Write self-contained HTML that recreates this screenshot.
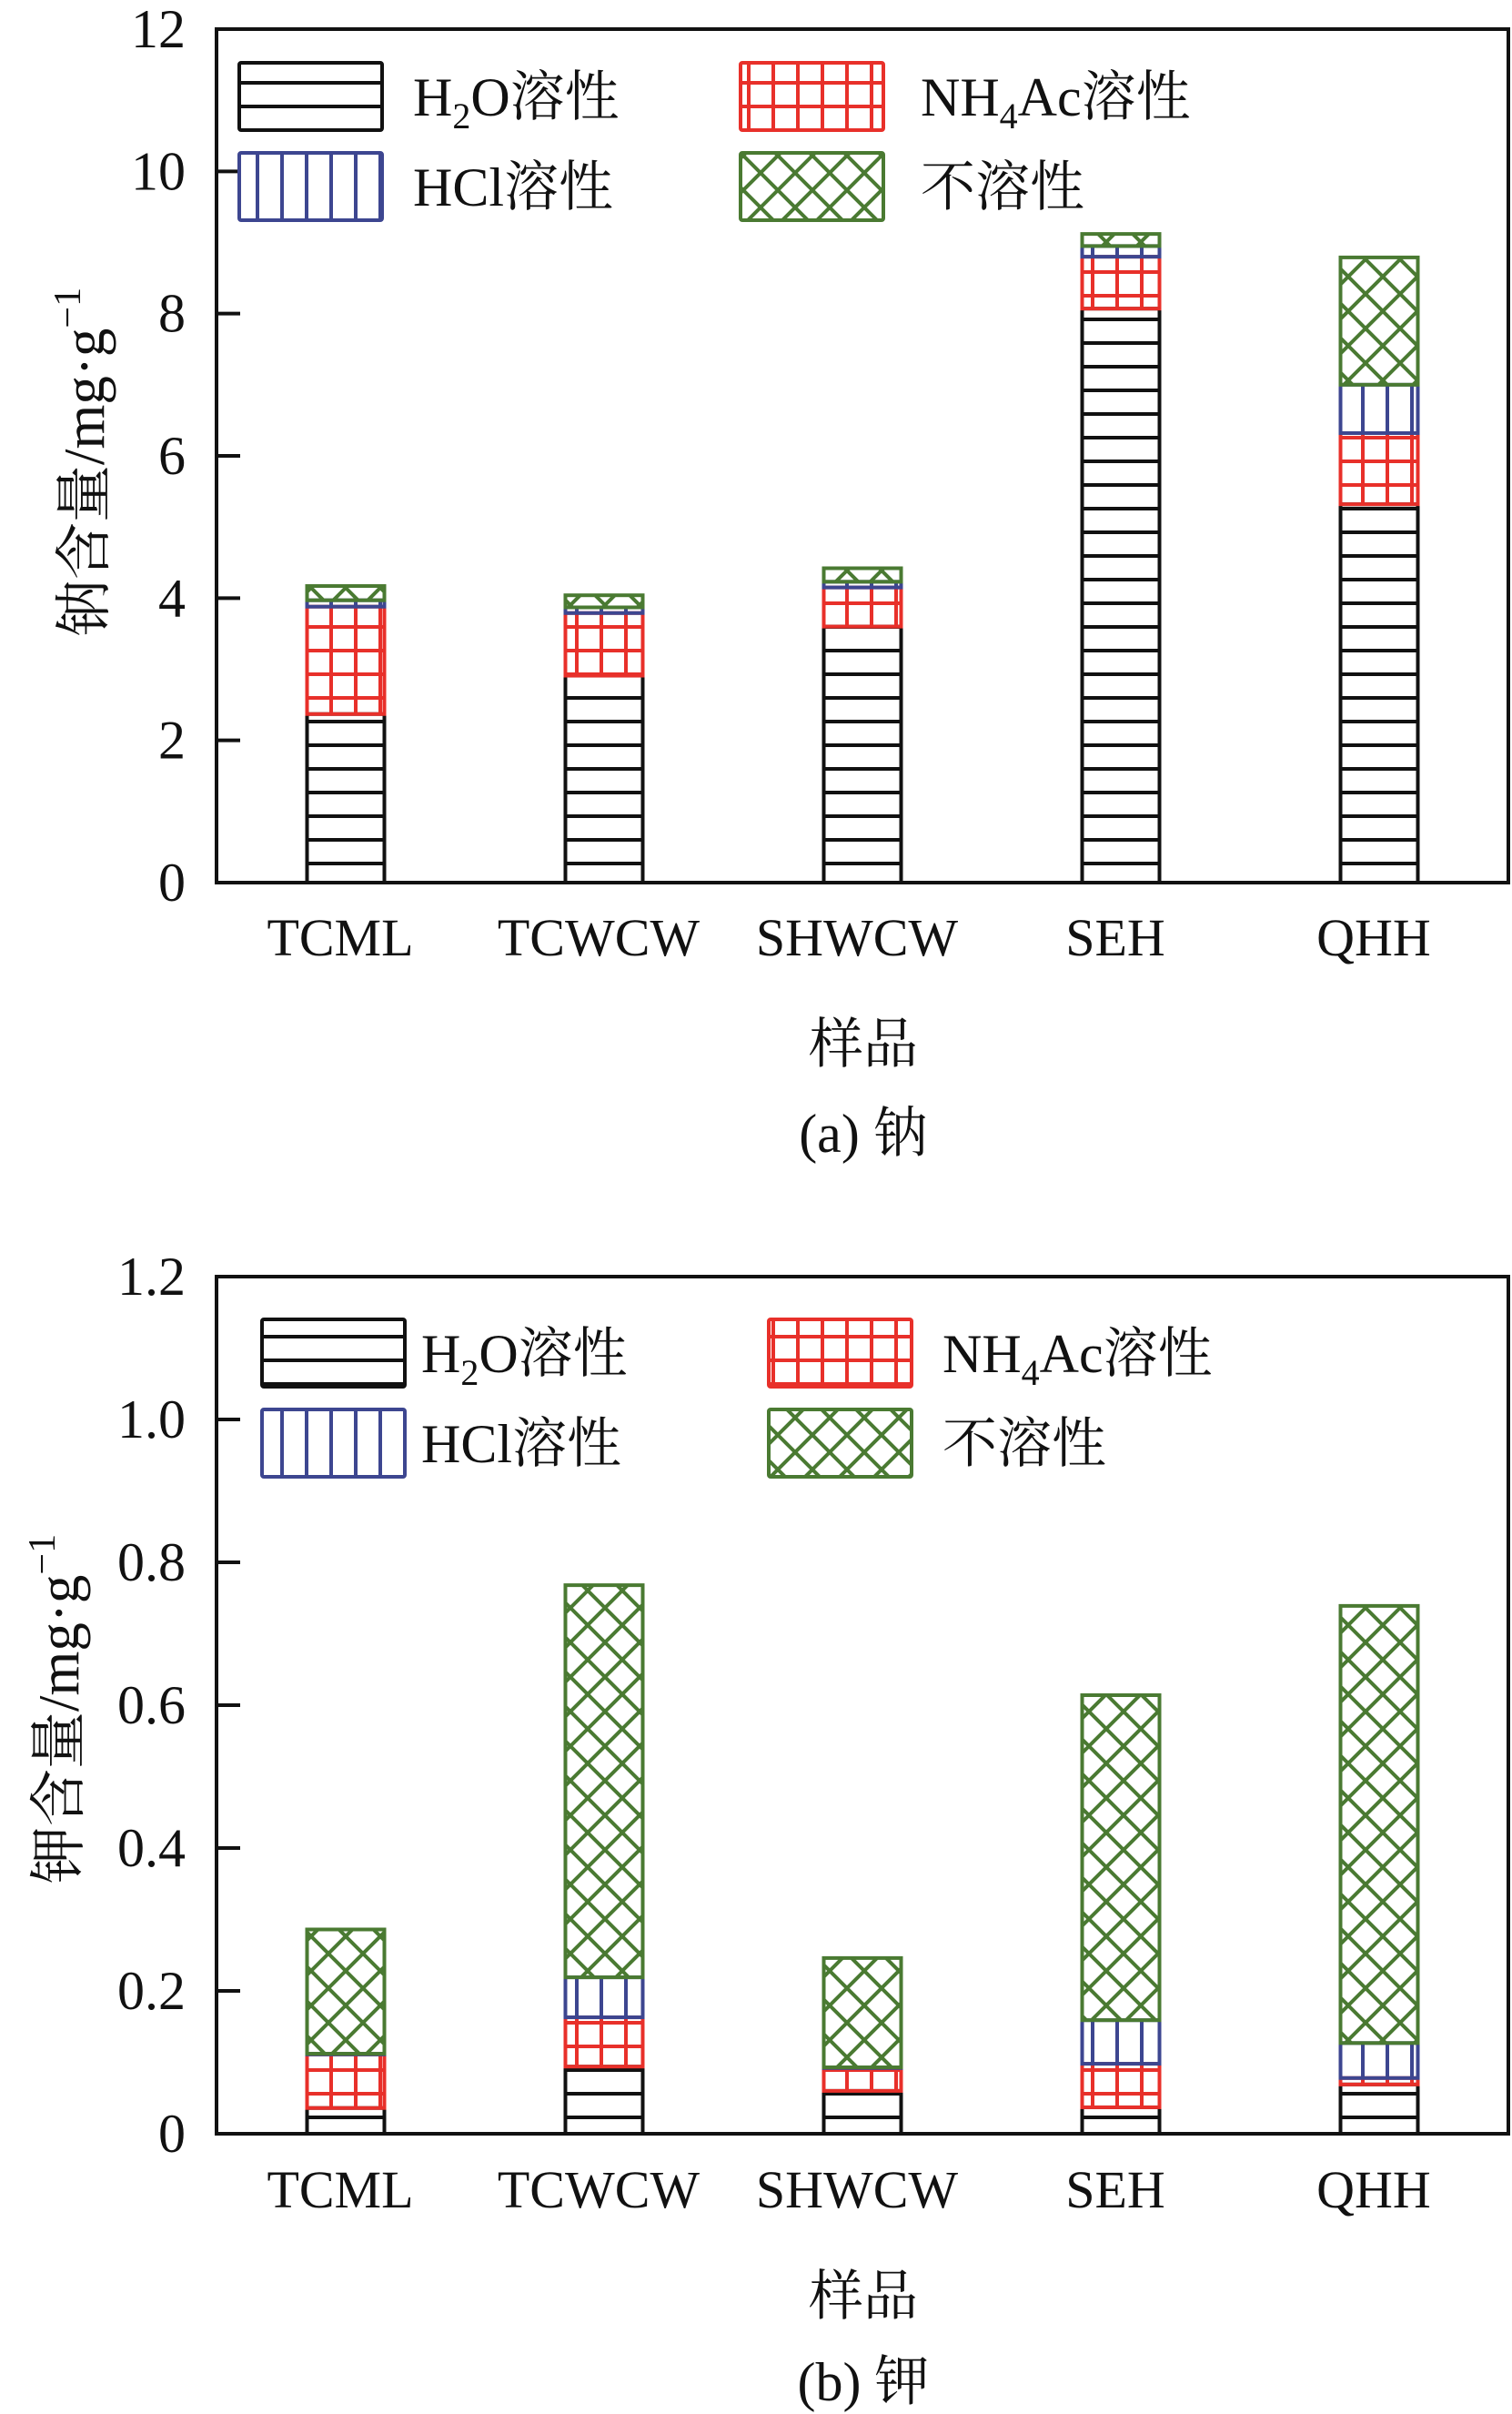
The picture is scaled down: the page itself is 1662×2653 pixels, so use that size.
<!DOCTYPE html>
<html><head><meta charset="utf-8">
<style>
html,body{margin:0;padding:0;background:#fff;}
svg{display:block;}
text{font-family:"Liberation Serif","Noto Serif CJK SC",serif !important;fill:#111;}
</style></head>
<body>
<svg id="fig" width="1662" height="2653" viewBox="0 0 1662 2653" xmlns="http://www.w3.org/2000/svg" font-family="Liberation Serif, Noto Serif CJK SC, serif">
<defs>
<pattern id="p-h2o" patternUnits="userSpaceOnUse" width="40" height="26"><line x1="0" y1="13" x2="40" y2="13" stroke="#111" stroke-width="4"/></pattern>
<pattern id="p-nh4" patternUnits="userSpaceOnUse" width="27" height="26"><line x1="13" y1="0" x2="13" y2="26" stroke="#e8302a" stroke-width="4"/><line x1="0" y1="13" x2="27" y2="13" stroke="#e8302a" stroke-width="4"/></pattern>
<pattern id="p-hcl" patternUnits="userSpaceOnUse" width="27" height="26"><line x1="13" y1="0" x2="13" y2="26" stroke="#3d4690" stroke-width="4"/></pattern>
<pattern id="p-ins" patternUnits="userSpaceOnUse" width="38" height="38"><path d="M0 0L38 38M-19 19L19 57M19 -19L57 19M38 0L0 38M57 19L19 57M19 -19L-19 19" stroke="#4a7a32" stroke-width="4"/></pattern>
</defs>
</svg>
<script>
const categories = ["TCML","TCWCW","SHWCW","SEH","QHH"];
const seriesNames = ["H2O溶性","NH4Ac溶性","HCl溶性","不溶性"];
const naH2O = [2.37,2.91,3.60,8.07,5.32];
const naNH4 = [1.51,0.88,0.55,0.73,1.00];
const naHCl = [0.09,0.08,0.08,0.15,0.68];
const naIns = [0.20,0.17,0.19,0.17,1.79];
const kH2O = [0.036,0.094,0.060,0.037,0.069];
const kNH4 = [0.075,0.069,0.032,0.061,0.009];
const kHCl = [0.001,0.056,0.001,0.061,0.049];
const kIns = [0.174,0.549,0.153,0.455,0.612];
const naTicks = ["0","2","4","6","8","10","12"];
const kTicks = ["0","0.2","0.4","0.6","0.8","1.0","1.2"];

const NS="http://www.w3.org/2000/svg";
const FF="Liberation Serif, Noto Serif CJK SC, serif";
const svg=document.getElementById('fig');
function mk(tag,attrs,parent){const e=document.createElementNS(NS,tag);for(const k in attrs)e.setAttribute(k,attrs[k]);if(tag==='text')e.setAttribute('font-family',FF);(parent||svg).appendChild(e);return e;}
const fills=["url(#p-h2o)","url(#p-nh4)","url(#p-hcl)","url(#p-ins)"];
const strokes=["#111","#e8302a","#3d4690","#4a7a32"];
const segKeys=["h2o","nh4ac","hcl","insoluble"];

function drawChart(cfg){
  const g=mk('g',{});
  
  
  const L=238,R=1658,T=cfg.top,B=cfg.bottom;
  const y=v=>B-(v/cfg.max)*(B-T);
  const band=(R-L)/categories.length;
  const x=i=>L+band*(i+0.5);
  const bw=85;
  categories.forEach((c,i)=>{
    let base=0;
    cfg.series.forEach((arr,s)=>{
      const v=arr[i];
      const y0=y(base),y1=y(base+v);
      const r=mk('rect',{x:x(i)-bw/2,y:y1,width:bw,height:Math.max(0,y0-y1),fill:fills[s],stroke:strokes[s],'stroke-width':4},g);
      
      
      base+=v;
    });
    const t=mk('text',{x:x(i)-6,y:cfg.catY,'font-size':58,'text-anchor':'middle'},g);
    t.textContent=c;
    
    
  });
  const fr=mk('rect',{x:L,y:T,width:R-L,height:B-T,fill:'none',stroke:'#111','stroke-width':4},g);
  
  
  cfg.ticks.forEach((lab,k)=>{
    const v=cfg.max*k/(cfg.ticks.length-1);
    const ty=y(v);
    const tl=mk('line',{x1:L,y1:ty,x2:L+26,y2:ty,stroke:'#111','stroke-width':4},g);
    
    
    const t=mk('text',{x:204,y:ty+20,'font-size':60,'text-anchor':'end'},g);
    t.textContent=lab;
    
    
  });
  const lg=mk('g',{},g);
  
  
  const labels=[["H",["2","sub"],"O溶性"],["NH",["4","sub"],"Ac溶性"],["HCl溶性"],["不溶性"]];
  labels.forEach((parts,s)=>{
    const col=s%2,row=Math.floor(s/2);
    const bx=cfg.legX[col],by=cfg.legY[row];
    const r=mk('rect',{x:bx,y:by,width:157,height:74,fill:fills[s],stroke:strokes[s],'stroke-width':4,rx:2},lg);
    
    
    const t=mk('text',{x:cfg.legTX[col],y:by+58,'font-size':60},lg);
    
    
    parts.forEach(p=>{
      const ts=mk('tspan',{},t);
      if(Array.isArray(p)){ts.textContent=p[0];ts.setAttribute('font-size',40);ts.setAttribute('dy',14);}
      else{ts.textContent=p; if(t.childNodes.length>1){ts.setAttribute('dy',-14);} }
    });
  });
  const yt=mk('text',{x:0,y:0,'font-size':63,'text-anchor':'middle',transform:`translate(${cfg.ytX},${cfg.ytY}) rotate(-90)`},g);
  
  
  const a=mk('tspan',{},yt);a.textContent=cfg.ytitle+"含量/mg·g";
  const b=mk('tspan',{dy:-26,'font-size':42},yt);b.textContent="−1";
  const xt=mk('text',{x:949,y:cfg.xtY,'font-size':60,'text-anchor':'middle'},g);
  xt.textContent="样品";
  
  
  const cap=mk('text',{x:949,y:cfg.capY,'font-size':60,'text-anchor':'middle'},g);
  cap.textContent=cfg.caption;
  
  
}
drawChart({name:'sodium-chart',top:32,bottom:970,max:12,ticks:naTicks,series:[naH2O,naNH4,naHCl,naIns],
  catY:1050,legX:[263,814],legY:[69,168],legTX:[454,1012],ytX:114,ytY:508,ytitle:"钠",xtY:1168,capY:1266,caption:"(a) 钠"});
drawChart({name:'potassium-chart',top:1403,bottom:2345,max:1.2,ticks:kTicks,series:[kH2O,kNH4,kHCl,kIns],
  catY:2426,legX:[288,845],legY:[1450,1549],legTX:[463,1036],ytX:86,ytY:1878,ytitle:"钾",xtY:2544,capY:2638,caption:"(b) 钾"});
</script>
</body></html>
